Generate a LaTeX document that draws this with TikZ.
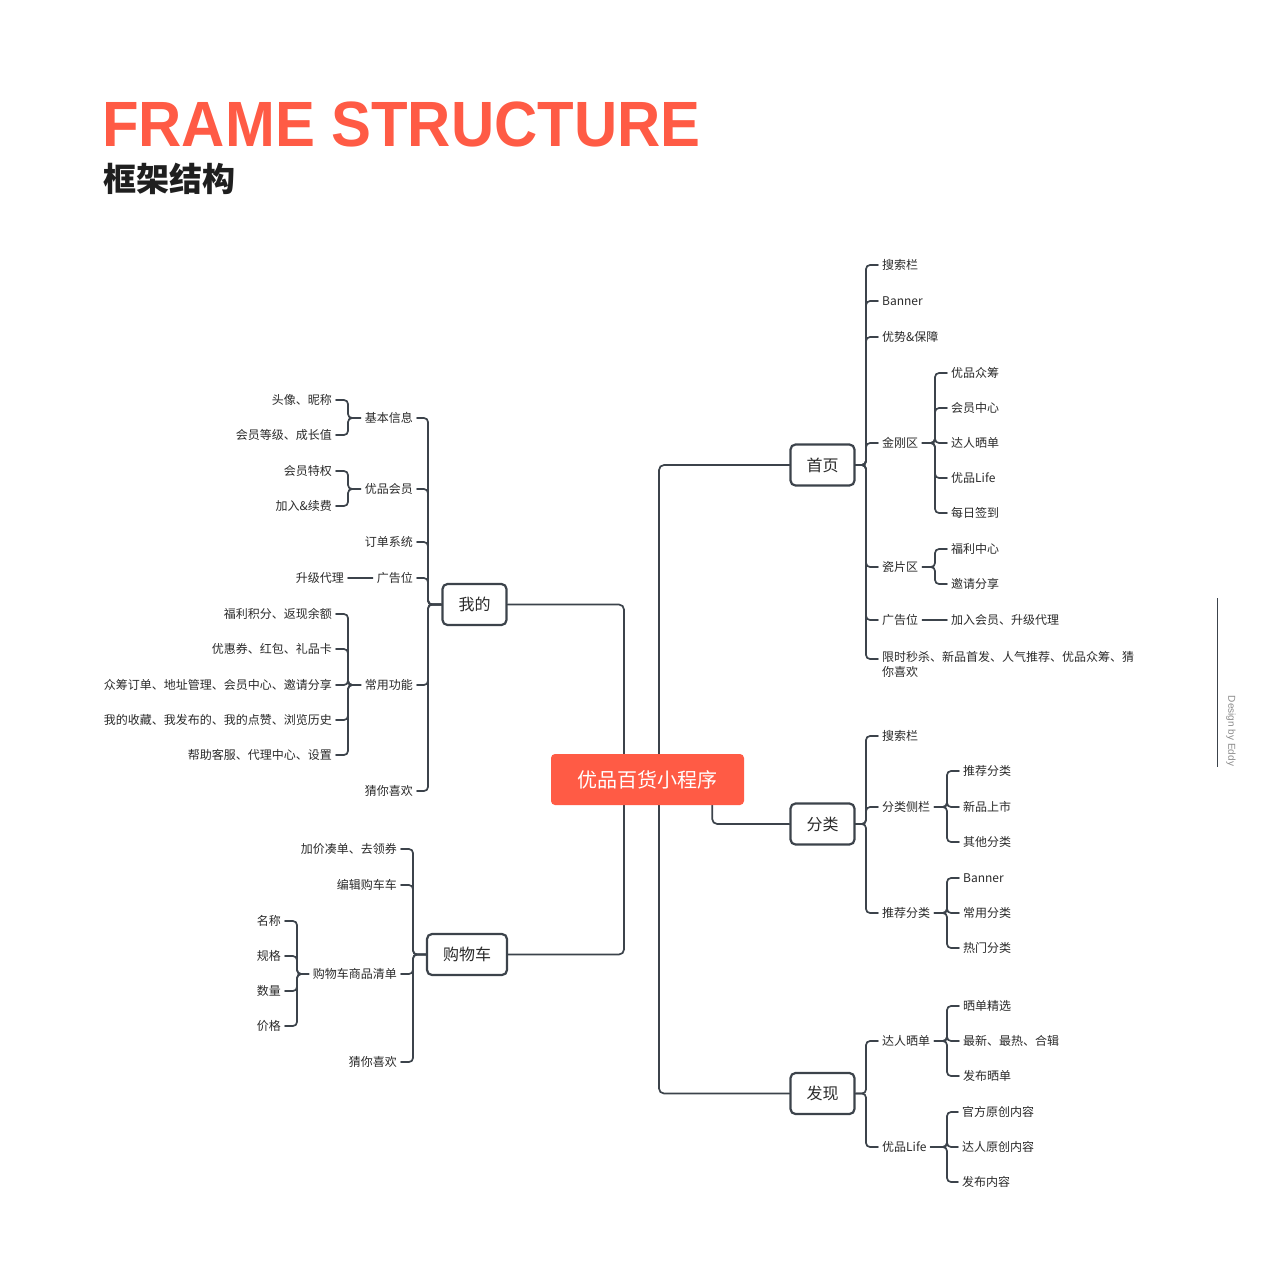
\documentclass[tikz,border=0pt]{standalone}
\usepackage{fontspec}
\usepackage{graphicx}
\setmainfont{Noto Sans CJK SC}
\newfontfamily\titlefont{Liberation Sans}
\usetikzlibrary{positioning, calc, backgrounds}
\definecolor{Coral}{HTML}{FF5B45}
\definecolor{TreeInk}{HTML}{3C434B}
\definecolor{LeafInk}{HTML}{2A2A2A}
\definecolor{HeadInk}{HTML}{1F1F1F}
\definecolor{SideMute}{HTML}{8A8A8A}

\begin{document}
\begin{tikzpicture}[
    x=1pt, y=-1pt,
    leaf/.style={
      text=LeafInk, font=\fontsize{12}{15}\selectfont,
      inner xsep=4pt, inner ysep=1pt, align=left,
    },
    leafL/.style={leaf, anchor=east},
    leafR/.style={leaf, anchor=west},
    hub/.style={
      draw=TreeInk, fill=white, line width=2.2pt, rounded corners=5pt,
      inner xsep=16pt, minimum height=41pt, text=LeafInk,
      font=\fontsize{16}{16}\selectfont,
    },
    rootbox/.style={
      fill=Coral, rounded corners=4pt, text=white,
      minimum width=193pt, minimum height=51pt,
      font=\fontsize{20}{20}\selectfont,
    },
    twig/.style={
      draw=TreeInk, line width=1.7pt, rounded corners=4pt, line cap=round,
    },
    spine/.style={twig, rounded corners=5pt},
  ]
    \useasboundingbox (0,0) rectangle (1280,1272);

    % heading
    \node[anchor=base west, inner sep=0pt, text=Coral,
      font=\titlefont\bfseries\fontsize{64}{64}\selectfont] (title) at (102,146)
      {\scalebox{0.935}[1]{FRAME STRUCTURE}};
    \node[anchor=base west, inner sep=0pt, text=HeadInk,
      font=\bfseries\fontsize{33}{33}\selectfont] (subtitle) at (103,191)
      {框架结构};

    % centre and first level
    \node[rootbox] (root) at (647.5,779.5) {优品百货小程序};
    \node[hub] (me) at (474.5,604.5) {我的};
    \node[hub] (cart) at (467,954.5) {购物车};
    \node[hub] (home) at (822.5,465) {首页};
    \node[hub] (cate) at (822.5,824) {分类};
    \node[hub] (find) at (822.5,1093.5) {发现};

    \coordinate (spineL) at (624,0);
    \coordinate (spineR) at (659,0);
    \begin{scope}[on background layer]
      \draw[spine] (me.east) -- (me.east -| spineL) -- (cart.east -| spineL) -- (cart.east);
      \draw[spine] (home.west) -- (home.west -| spineR) -- (find.west -| spineR) -- (find.west);
      \draw[spine] ([xshift=-32pt]root.south east) |- (cate.west);
    \end{scope}

    % 我的
    \coordinate (meBus) at (428,0);
    \coordinate (meSub) at (348,0);
    \node[leafL] (me1) at (417,418) {基本信息};
    \node[leafL] (me2) at (417,489) {优品会员};
    \node[leafL] (me3) at (417,542) {订单系统};
    \node[leafL] (me4) at (417,578) {广告位};
    \node[leafL] (me5) at (417,685) {常用功能};
    \node[leafL] (me6) at (417,791) {猜你喜欢};

    \node[leafL] (me1a) at (336,400) {头像、昵称};
    \node[leafL] (me1b) at (336,435) {会员等级、成长值};
    \node[leafL] (me2a) at (336,471) {会员特权};
    \node[leafL] (me2b) at (336,506) {加入\&续费};
    \node[leafL] (me4a) at (348,578) {升级代理};
    \node[leafL] (me5a) at (336,614) {福利积分、返现余额};
    \node[leafL] (me5b) at (336,649) {优惠券、红包、礼品卡};
    \node[leafL] (me5c) at (336,685) {众筹订单、地址管理、会员中心、邀请分享};
    \node[leafL] (me5d) at (336,720) {我的收藏、我发布的、我的点赞、浏览历史};
    \node[leafL] (me5e) at (336,755) {帮助客服、代理中心、设置};

    \draw[twig] (me.west) -- (me.west -| meBus) |- (me1.east);
    \draw[twig] (me.west) -- (me.west -| meBus) |- (me2.east);
    \draw[twig] (me.west) -- (me.west -| meBus) |- (me3.east);
    \draw[twig] (me.west) -- (me.west -| meBus) |- (me4.east);
    \draw[twig] (me.west) -- (me.west -| meBus) |- (me5.east);
    \draw[twig] (me.west) -- (me.west -| meBus) |- (me6.east);

    \draw[twig] (me1.west) -- (me1.west -| meSub) |- (me1a.east);
    \draw[twig] (me1.west) -- (me1.west -| meSub) |- (me1b.east);
    \draw[twig] (me2.west) -- (me2.west -| meSub) |- (me2a.east);
    \draw[twig] (me2.west) -- (me2.west -| meSub) |- (me2b.east);
    \draw[twig] (me4a.east) -- (me4.west);
    \draw[twig] (me5.west) -- (me5.west -| meSub) |- (me5a.east);
    \draw[twig] (me5.west) -- (me5.west -| meSub) |- (me5b.east);
    \draw[twig] (me5.west) -- (me5.west -| meSub) |- (me5c.east);
    \draw[twig] (me5.west) -- (me5.west -| meSub) |- (me5d.east);
    \draw[twig] (me5.west) -- (me5.west -| meSub) |- (me5e.east);

    % 购物车
    \coordinate (cartBus) at (413,0);
    \coordinate (cartSub) at (297,0);
    \node[leafL] (cart1) at (401,849) {加价凑单、去领券};
    \node[leafL] (cart2) at (401,885) {编辑购车车};
    \node[leafL] (cart3) at (401,974) {购物车商品清单};
    \node[leafL] (cart4) at (401,1062) {猜你喜欢};
    \node[leafL] (cart3a) at (285,921) {名称};
    \node[leafL] (cart3b) at (285,956) {规格};
    \node[leafL] (cart3c) at (285,991) {数量};
    \node[leafL] (cart3d) at (285,1026) {价格};

    \draw[twig] (cart.west) -- (cart.west -| cartBus) |- (cart1.east);
    \draw[twig] (cart.west) -- (cart.west -| cartBus) |- (cart2.east);
    \draw[twig] (cart.west) -- (cart.west -| cartBus) |- (cart3.east);
    \draw[twig] (cart.west) -- (cart.west -| cartBus) |- (cart4.east);
    \draw[twig] (cart3.west) -- (cart3.west -| cartSub) |- (cart3a.east);
    \draw[twig] (cart3.west) -- (cart3.west -| cartSub) |- (cart3b.east);
    \draw[twig] (cart3.west) -- (cart3.west -| cartSub) |- (cart3c.east);
    \draw[twig] (cart3.west) -- (cart3.west -| cartSub) |- (cart3d.east);

    % 首页
    \coordinate (homeBus) at (866,0);
    \coordinate (homeSub) at (935,0);
    \node[leafR] (home1) at (878,265) {搜索栏};
    \node[leafR] (home2) at (878,301) {Banner};
    \node[leafR] (home3) at (878,337) {优势\&保障};
    \node[leafR] (home4) at (878,443) {金刚区};
    \node[leafR] (home5) at (878,567) {瓷片区};
    \node[leafR] (home6) at (878,620) {广告位};
    \node[leaf, anchor=north west, inner ysep=0pt] (home7) at (878,651)
      {限时秒杀、新品首发、人气推荐、优品众筹、猜\\你喜欢};
    \coordinate (home7pin) at ([yshift=-8pt]home7.north west);

    \node[leafR] (home4a) at (947,373) {优品众筹};
    \node[leafR] (home4b) at (947,408) {会员中心};
    \node[leafR] (home4c) at (947,443) {达人晒单};
    \node[leafR] (home4d) at (947,478) {优品Life};
    \node[leafR] (home4e) at (947,513) {每日签到};
    \node[leafR] (home5a) at (947,549) {福利中心};
    \node[leafR] (home5b) at (947,584) {邀请分享};
    \node[leafR] (home6a) at (947,620) {加入会员、升级代理};

    \draw[twig] (home.east) -- (home.east -| homeBus) |- (home1.west);
    \draw[twig] (home.east) -- (home.east -| homeBus) |- (home2.west);
    \draw[twig] (home.east) -- (home.east -| homeBus) |- (home3.west);
    \draw[twig] (home.east) -- (home.east -| homeBus) |- (home4.west);
    \draw[twig] (home.east) -- (home.east -| homeBus) |- (home5.west);
    \draw[twig] (home.east) -- (home.east -| homeBus) |- (home6.west);
    \draw[twig] (home.east) -- (home.east -| homeBus) |- (home7pin);

    \draw[twig] (home4.east) -- (home4.east -| homeSub) |- (home4a.west);
    \draw[twig] (home4.east) -- (home4.east -| homeSub) |- (home4b.west);
    \draw[twig] (home4.east) -- (home4.east -| homeSub) |- (home4c.west);
    \draw[twig] (home4.east) -- (home4.east -| homeSub) |- (home4d.west);
    \draw[twig] (home4.east) -- (home4.east -| homeSub) |- (home4e.west);
    \draw[twig] (home5.east) -- (home5.east -| homeSub) |- (home5a.west);
    \draw[twig] (home5.east) -- (home5.east -| homeSub) |- (home5b.west);
    \draw[twig] (home6.east) -- (home6a.west);

    % 分类
    \coordinate (cateBus) at (866,0);
    \coordinate (cateSub) at (947,0);
    \node[leafR] (cate1) at (878,736) {搜索栏};
    \node[leafR] (cate2) at (878,807) {分类侧栏};
    \node[leafR] (cate3) at (878,913) {推荐分类};
    \node[leafR] (cate2a) at (959,771) {推荐分类};
    \node[leafR] (cate2b) at (959,807) {新品上市};
    \node[leafR] (cate2c) at (959,842) {其他分类};
    \node[leafR] (cate3a) at (959,878) {Banner};
    \node[leafR] (cate3b) at (959,913) {常用分类};
    \node[leafR] (cate3c) at (959,948) {热门分类};

    \draw[twig] (cate.east) -- (cate.east -| cateBus) |- (cate1.west);
    \draw[twig] (cate.east) -- (cate.east -| cateBus) |- (cate2.west);
    \draw[twig] (cate.east) -- (cate.east -| cateBus) |- (cate3.west);
    \draw[twig] (cate2.east) -- (cate2.east -| cateSub) |- (cate2a.west);
    \draw[twig] (cate2.east) -- (cate2.east -| cateSub) |- (cate2b.west);
    \draw[twig] (cate2.east) -- (cate2.east -| cateSub) |- (cate2c.west);
    \draw[twig] (cate3.east) -- (cate3.east -| cateSub) |- (cate3a.west);
    \draw[twig] (cate3.east) -- (cate3.east -| cateSub) |- (cate3b.west);
    \draw[twig] (cate3.east) -- (cate3.east -| cateSub) |- (cate3c.west);

    % 发现
    \coordinate (findBus) at (866,0);
    \coordinate (findSub) at (947,0);
    \node[leafR] (find1) at (878,1041) {达人晒单};
    \node[leafR] (find2) at (878,1147) {优品Life};
    \node[leafR] (find1a) at (959,1006) {晒单精选};
    \node[leafR] (find1b) at (959,1041) {最新、最热、合辑};
    \node[leafR] (find1c) at (959,1076) {发布晒单};
    \node[leafR] (find2a) at (958,1112) {官方原创内容};
    \node[leafR] (find2b) at (958,1147) {达人原创内容};
    \node[leafR] (find2c) at (958,1182) {发布内容};

    \draw[twig] (find.east) -- (find.east -| findBus) |- (find1.west);
    \draw[twig] (find.east) -- (find.east -| findBus) |- (find2.west);
    \draw[twig] (find1.east) -- (find1.east -| findSub) |- (find1a.west);
    \draw[twig] (find1.east) -- (find1.east -| findSub) |- (find1b.west);
    \draw[twig] (find1.east) -- (find1.east -| findSub) |- (find1c.west);
    \draw[twig] (find2.east) -- (find2.east -| findSub) |- (find2a.west);
    \draw[twig] (find2.east) -- (find2.east -| findSub) |- (find2b.west);
    \draw[twig] (find2.east) -- (find2.east -| findSub) |- (find2c.west);

    % side credit
    \draw[TreeInk, line width=0.8pt] (1217,598) -- (1217,767);
    \node[rotate=-90, inner sep=0pt, text=SideMute,
      font=\titlefont\fontsize{10}{10}\selectfont] (credit) at (1231,731)
      {Design by Eddy};
  \end{tikzpicture}
\end{document}
